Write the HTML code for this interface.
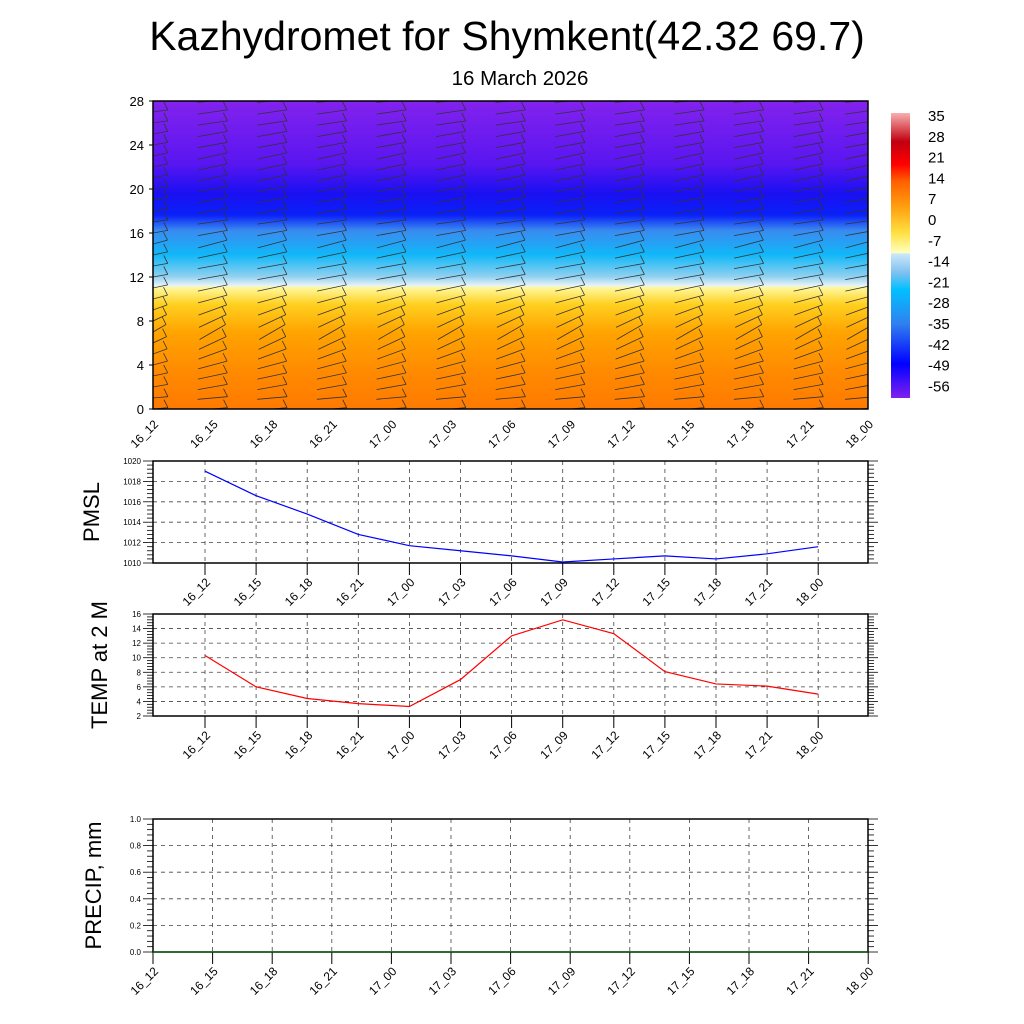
<!DOCTYPE html>
<html><head><meta charset="utf-8"><style>
body{margin:0;background:#fff;}
svg{display:block;font-family:"Liberation Sans",sans-serif;}
</style></head><body>
<svg id="s" width="1024" height="1024" viewBox="0 0 1024 1024">
<defs>
<clipPath id="fieldclip"><rect x="153" y="101" width="715" height="308"/></clipPath>
<linearGradient id="field" x1="0" y1="0" x2="0" y2="1">
<stop offset="0" stop-color="#8322ee"/>
<stop offset="0.2" stop-color="#5a16f0"/>
<stop offset="0.3" stop-color="#1a10f2"/>
<stop offset="0.37" stop-color="#0a20f8"/>
<stop offset="0.42" stop-color="#3a8af0"/>
<stop offset="0.5" stop-color="#10b8f8"/>
<stop offset="0.57" stop-color="#90d0f0"/>
<stop offset="0.6" stop-color="#e8f4f8"/>
<stop offset="0.605" stop-color="#fff8a0"/>
<stop offset="0.66" stop-color="#ffd020"/>
<stop offset="0.75" stop-color="#ffa400"/>
<stop offset="0.88" stop-color="#ff8a00"/>
<stop offset="1" stop-color="#ff7a00"/>
</linearGradient>
<radialGradient id="warm" cx="0.5" cy="1" r="0.5">
<stop offset="0" stop-color="#ff5a00" stop-opacity="0.8"/>
<stop offset="1" stop-color="#ff7a00" stop-opacity="0"/>
</radialGradient>
<linearGradient id="cbar" x1="0" y1="0" x2="0" y2="1">
<stop offset="0" stop-color="#f8b0b0"/>
<stop offset="0.1" stop-color="#c00010"/>
<stop offset="0.18" stop-color="#ff0000"/>
<stop offset="0.24" stop-color="#ff6000"/>
<stop offset="0.33" stop-color="#ffa010"/>
<stop offset="0.42" stop-color="#ffe040"/>
<stop offset="0.49" stop-color="#ffffc0"/>
<stop offset="0.495" stop-color="#c8e8f8"/>
<stop offset="0.56" stop-color="#80c0f0"/>
<stop offset="0.62" stop-color="#00c0ff"/>
<stop offset="0.74" stop-color="#3080f0"/>
<stop offset="0.88" stop-color="#0000ff"/>
<stop offset="1" stop-color="#8020f0"/>
</linearGradient>
</defs>
<text x="507" y="50" font-size="41" text-anchor="middle">Kazhydromet for Shymkent(42.32 69.7)</text>
<text x="520" y="85" font-size="20.5" text-anchor="middle">16 March 2026</text>
<g id="topfield"></g>
<g id="cb"></g>
<g id="p1"></g><g id="p2"></g><g id="p3"></g>
</svg>
<script>
const NS="http://www.w3.org/2000/svg";
const timeLabels=["16_12","16_15","16_18","16_21","17_00","17_03","17_06","17_09","17_12","17_15","17_18","17_21","18_00"];
const heightTicks=[0,4,8,12,16,20,24,28];
const colorbarLabels=["35","28","21","14","7","0","-7","-14","-21","-28","-35","-42","-49","-56"];
const pmslValues=[1019.0,1016.6,1014.8,1012.8,1011.7,1011.2,1010.7,1010.1,1010.4,1010.7,1010.4,1010.9,1011.6];
const pmslTicks=[1010,1012,1014,1016,1018,1020];
const tempValues=[10.3,6.0,4.4,3.7,3.3,7.0,13.0,15.2,13.3,8.1,6.4,6.1,5.0];
const tempTicks=[2,4,6,8,10,12,14,16];
const precipValues=[0,0,0,0,0,0,0,0,0,0,0,0,0];
const precipTicks=[0,0.2,0.4,0.6,0.8,1.0];
const windAngleByLevel=[-5,-5,-10,-12,-15,-20,-25,-30,-25,-20,-15,-12,-10,-10,-12,-15,-10,-8,-8,-10,-10,-12,-12,-12,-10,-10,-8,-8,-5];

function el(tag,attrs,parent,text){const e=document.createElementNS(NS,tag);for(const k in attrs)e.setAttribute(k,attrs[k]);if(text!==undefined)e.textContent=text;parent.appendChild(e);return e;}

const topG=document.getElementById('topfield');
const TX0=153,TX1=868,TY0=101,TY1=409;
const tx=i=>TX0+(TX1-TX0)*i/12;
const ty=v=>TY1-(TY1-TY0)*v/28;
const clipG=el('g',{'clip-path':'url(#fieldclip)'},topG);
let r=el('rect',{x:TX0,y:TY0,width:TX1-TX0,height:TY1-TY0,fill:'url(#field)'},clipG);


el('ellipse',{cx:560,cy:TY1,rx:200,ry:60,fill:'url(#warm)'},clipG);
const barbs=el('g',{stroke:'#333','stroke-width':0.8,fill:'none'},clipG);


for(let c=0;c<13;c++){
  for(let l=0;l<=28;l++){
    const x=tx(c)+(c==12?-8:0), y=ty(l), a=windAngleByLevel[l]*Math.PI/180;
    const L=30, dx=Math.cos(a)*L/2, dy=Math.sin(a)*L/2;
    el('line',{x1:x-dx,y1:y-dy,x2:x+dx,y2:y+dy},barbs);
    el('line',{x1:x+dx,y1:y+dy,x2:x+dx-4,y2:y+dy-8},barbs);
  }
}
el('rect',{x:TX0,y:TY0,width:TX1-TX0,height:TY1-TY0,fill:'none',stroke:'#000','stroke-width':1.5},topG);
heightTicks.forEach(v=>{
  el('line',{x1:TX0-4,y1:ty(v),x2:TX0,y2:ty(v),stroke:'#000'},topG);
  const t=el('text',{x:TX0-9,y:ty(v)+5,'font-size':13,'text-anchor':'end'},topG,String(v));
  
  
});
timeLabels.forEach((s,i)=>{
  const t=el('text',{x:0,y:0,'font-size':12,'text-anchor':'end',transform:`translate(${tx(i)+6},${TY1+16}) rotate(-45)`},topG,s);
  
  
});
const cb=document.getElementById('cb');
r=el('rect',{x:891,y:113,width:19,height:285,fill:'url(#cbar)'},cb);


colorbarLabels.forEach((s,i)=>{
  const t=el('text',{x:928,y:121+i*20.8,'font-size':15},cb,s);
  
  
});

function linePanel(id,X0,X1,Y0,Y1,vals,ticks,color,title,titleX,xOff,xSpan){
  const g=document.getElementById(id);
  const lo=ticks[0],hi=ticks[ticks.length-1];
  const px=i=>xOff+xSpan*i;
  const py=v=>Y1-(Y1-Y0)*(v-lo)/(hi-lo);
  const grid=el('g',{stroke:'#444','stroke-width':0.8,'stroke-dasharray':'4,4'},g);
  ticks.slice(1,-1).forEach(v=>el('line',{x1:X0,y1:py(v),x2:X1,y2:py(v)},grid));
  timeLabels.forEach((s,i)=>{if(px(i)>X0+1&&px(i)<X1-1)el('line',{x1:px(i),y1:Y0,x2:px(i),y2:Y1},grid);});
  el('rect',{x:X0,y:Y0,width:X1-X0,height:Y1-Y0,fill:'none',stroke:'#000','stroke-width':1.5},g);
  const major=ticks[1]-ticks[0];
  for(let k=0;k<=(ticks.length-1)*5;k++){
    const v=lo+k*major/5;
    const len=(k%5===0)?10:6;
    el('line',{x1:X0-len,y1:py(v),x2:X0,y2:py(v),stroke:'#000','stroke-width':0.8},g);
    el('line',{x1:X1,y1:py(v),x2:X1+len,y2:py(v),stroke:'#000','stroke-width':0.8},g);
  }
  ticks.forEach(v=>{
    const t=el('text',{x:X0-12,y:py(v)+3,'font-size':8,'text-anchor':'end'},g,(hi<=1?v.toFixed(1):String(v)));
    
    
  });
  timeLabels.forEach((s,i)=>{
    el('line',{x1:px(i),y1:Y1,x2:px(i),y2:Y1+12,stroke:'#000','stroke-width':1},g);
    const t=el('text',{x:0,y:0,'font-size':12,'text-anchor':'end',transform:`translate(${px(i)+6},${Y1+20}) rotate(-45)`},g,s);
    
    
  });
  const pts=vals.map((v,i)=>px(i)+','+py(v)).join(' ');
  const pl=el('polyline',{points:pts,fill:'none',stroke:color,'stroke-width':1.2},g);
  
  
  const cy=(Y0+Y1)/2;
  const t=el('text',{x:0,y:0,'font-size':22,'text-anchor':'middle',transform:`translate(${titleX},${cy}) rotate(-90)`},g,title);
  
  
}
linePanel('p1',153,868,461,563,pmslValues,pmslTicks,'#0000ff','PMSL',99,205,51.1);
linePanel('p2',153,868,614,716,tempValues,tempTicks,'#ff0000','TEMP at 2 M',107,205,51.1);
linePanel('p3',153,868,819,952,precipValues,precipTicks,'#006000','PRECIP, mm',101,153,59.6);
</script>
</body></html>
